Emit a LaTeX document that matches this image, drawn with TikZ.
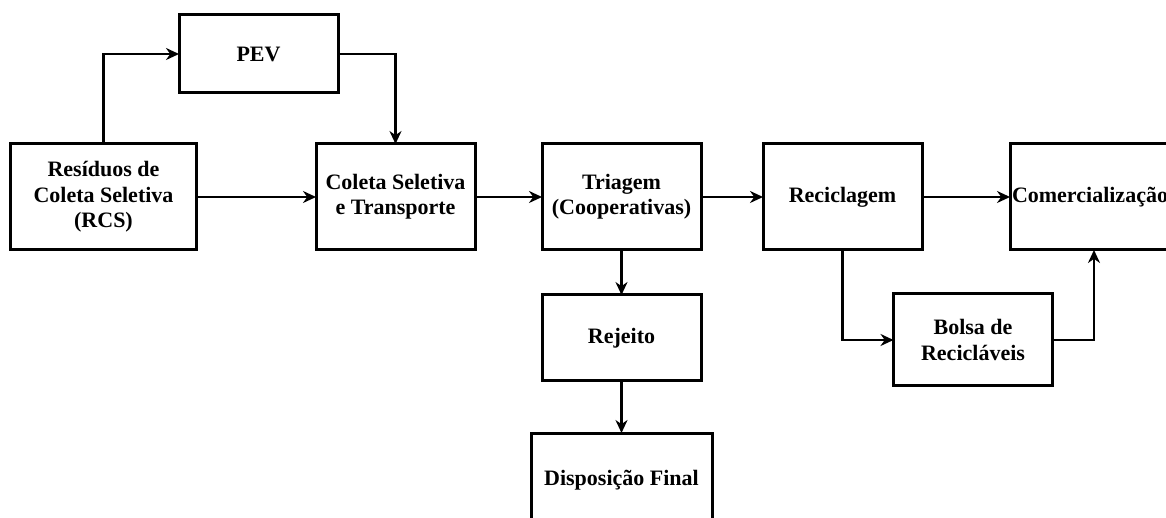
\documentclass[tikz,border=0pt]{standalone}
\usepackage{fontspec}
\setmainfont{Liberation Serif}
\usepackage{tikz}
\usetikzlibrary{arrows.meta,positioning,calc}

\begin{document}
\begin{tikzpicture}[
    box/.style={rectangle, draw=black, line width=1.5pt, outer sep=0pt, align=center, minimum width=79.5pt, minimum height=53pt, font=\fontsize{11}{12.7}\selectfont\bfseries, inner sep=1pt},
    arr/.style={-{Stealth[length=6.5pt,width=6pt]}, line width=1.3pt, draw=black}
]
    \useasboundingbox (-51.75pt,-160.5pt) rectangle (531.25pt,98.5pt);

    \node [box, minimum width=92.5pt] (res) at (0,0) {Resíduos de\\Coleta Seletiva\\(RCS)};
    \node [box, right=60pt of res] (col) {Coleta Seletiva\\e Transporte};
    \node [box, right=33.5pt of col] (tri) {Triagem\\(Cooperativas)};
    \node [box, right=31pt of tri] (rec) {Reciclagem};
    \node [box, right=44pt of rec] (com) {Comercialização};
    \node [box, minimum height=39pt] (pev) at ([xshift=77.5pt,yshift=71.5pt]res) {PEV};
    \node [box, minimum height=43pt, below=22.5pt of tri] (rej) {Rejeito};
    \node [box, minimum width=90.5pt, minimum height=47pt, below=26pt of rej] (dis) {Disposição Final};
    \node [box, minimum height=46pt] (bol) at ([xshift=65.25pt,yshift=-71.5pt]rec) {Bolsa de\\Recicláveis};

    \draw [arr] (res.north) |- (pev.west);
    \draw [arr] (pev.east) -| (col.north);
    \draw [arr] (res) -- (col);
    \draw [arr] (col) -- (tri);
    \draw [arr] (tri) -- (rec);
    \draw [arr] (rec) -- (com);
    \draw [arr] (tri) -- (rej);
    \draw [arr] (rej) -- (dis);
    \draw [arr] (rec.south) |- (bol.west);
    \draw [arr] (bol.east) -| ([xshift=2pt]com.south);
\end{tikzpicture}
\end{document}
